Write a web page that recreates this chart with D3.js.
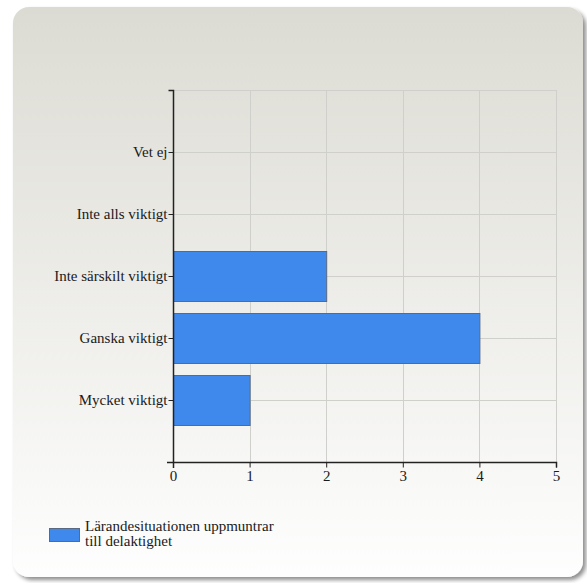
<!DOCTYPE html>
<html><head><meta charset="utf-8">
<script src="https://cdn.jsdelivr.net/npm/d3@7"></script>
<style>body{margin:0;background:#fff;}svg{display:block;}</style>
</head><body>
<script>
const categories = ["Vet ej","Inte alls viktigt","Inte särskilt viktigt","Ganska viktigt","Mycket viktigt"];
const values = [0,0,2,4,1];
const xTicks = [0,1,2,3,4,5];
const seriesName = ["Lärandesituationen uppmuntrar","till delaktighet"];

const W=587,H=583;
const svg=d3.select("body").append("svg").attr("width",W).attr("height",H);
const defs=svg.append("defs");
const g1=defs.append("linearGradient").attr("id","bg").attr("x1",0).attr("y1",0).attr("x2",0).attr("y2",1);
g1.append("stop").attr("offset","0%").attr("stop-color","#dcdbd3");
g1.append("stop").attr("offset","100%").attr("stop-color","#fefefe");
const f=defs.append("filter").attr("id","sh").attr("x","-5%").attr("y","-5%").attr("width","115%").attr("height","115%");
f.append("feGaussianBlur").attr("in","SourceAlpha").attr("stdDeviation",2);
f.append("feOffset").attr("dx",3).attr("dy",3).attr("result","b");
f.append("feComponentTransfer").append("feFuncA").attr("type","linear").attr("slope",0.45);
const m=f.append("feMerge");m.append("feMergeNode");m.append("feMergeNode").attr("in","SourceGraphic");

svg.append("rect").attr("x",13).attr("y",7).attr("width",570).attr("height",570).attr("rx",16)
  .attr("fill","url(#bg)").attr("filter","url(#sh)");

const x0=173,x1=556,y0=90,y1=462;
const x=d3.scaleLinear().domain([0,5]).range([x0,x1]);
const y=d3.scalePoint().domain(categories).range([y0,y1]).padding(1);
const bh=y.step()*0.8;

function styleText(sel){
  sel.style("font-family","'Liberation Serif'").style("font-size","15px").style("fill","#1a1a1a");
}

// grid
const grid=svg.append("g").attr("stroke","#cfcfcb").attr("stroke-width",1);
xTicks.forEach(t=>grid.append("line").attr("x1",Math.round(x(t))+0.5).attr("x2",Math.round(x(t))+0.5).attr("y1",y0).attr("y2",y1));
categories.forEach(c=>grid.append("line").attr("x1",x0).attr("x2",x1).attr("y1",Math.round(y(c))+0.5).attr("y2",Math.round(y(c))+0.5));
grid.append("line").attr("x1",x0).attr("x2",x1).attr("y1",y0+0.5).attr("y2",y0+0.5);

// bars
svg.append("g").selectAll("rect").data(categories.map((c,i)=>({c,v:values[i]})).filter(d=>d.v>0)).join("rect")
  .attr("x",x(0)+0.5).attr("y",d=>Math.round(y(d.c)-bh/2)+0.5)
  .attr("width",d=>x(d.v)-x(0)).attr("height",Math.round(bh))
  .attr("fill","#3f89ec").attr("stroke","#5a6a80").attr("stroke-width",1);

// axes
const ya=svg.append("g").attr("transform",`translate(${x0+0.5},0)`)
  .call(d3.axisLeft(y).tickSize(5).tickPadding(1));
ya.select(".domain").attr("d",`M-5,${y0+0.5}H0V${y1+6}`).attr("stroke","#222").attr("stroke-width",1.5);
ya.selectAll("text").attr("dy","0.3em").call(styleText);
ya.selectAll(".tick line").attr("stroke","#222");

const xa=svg.append("g").attr("transform",`translate(0,${y1+0.5})`)
  .call(d3.axisBottom(x).tickValues(xTicks).tickFormat(d3.format("d")).tickSize(5).tickPadding(3));
xa.select(".domain").attr("d",`M${x0-6},0H${x1+0.5}V5`).attr("stroke","#222").attr("stroke-width",1.5);
xa.selectAll("text").call(styleText);
xa.selectAll(".tick line").attr("stroke","#222");

// legend
svg.append("rect").attr("x",49.5).attr("y",528.5).attr("width",30).attr("height",13).attr("fill","#3f89ec").attr("stroke","#5a6a80");
const lt=svg.append("text").call(styleText);
seriesName.forEach((s,i)=>lt.append("tspan").attr("x",85).attr("y",531+i*15).text(s));
</script>
</body></html>
